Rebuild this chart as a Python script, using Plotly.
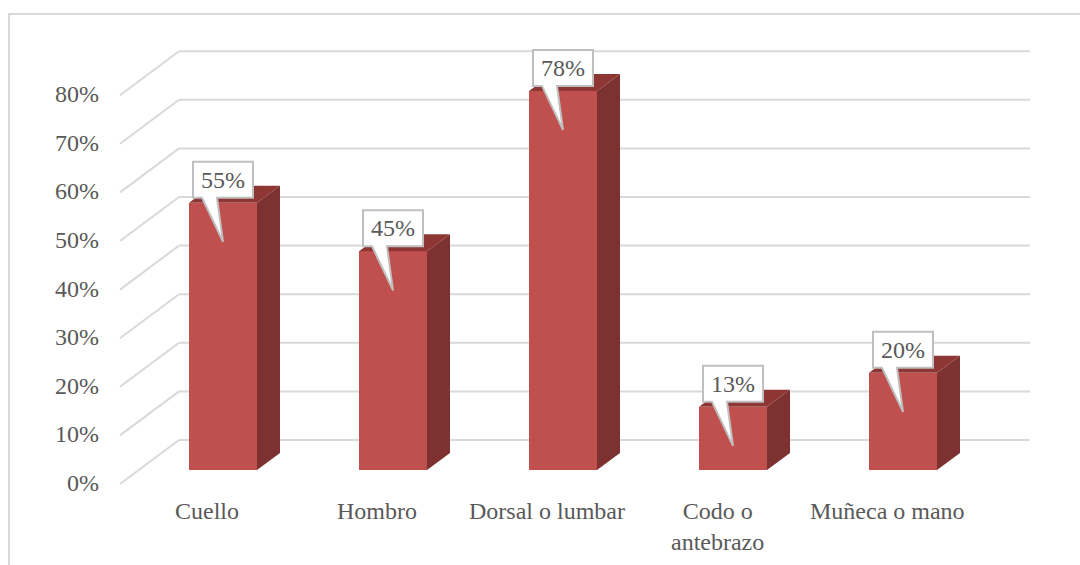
import plotly.graph_objects as go

# Chart data
categories = ["Cuello", "Hombro", "Dorsal o lumbar", "Codo o<br>antebrazo", "Muñeca o mano"]
values = [55, 45, 78, 13, 20]
tick_values = [0, 10, 20, 30, 40, 50, 60, 70, 80]
tick_labels = ["0%", "10%", "20%", "30%", "40%", "50%", "60%", "70%", "80%"]

W, H = 1080, 565
PX_CAT = 170.0      # pixels per category step
PX_PCT = 4.86       # pixels per percentage point
X0_PX, Y0_PX = 223, 470  # pixel position of category 0 / value 0 on the bar plane


def dx(px):
    return px / PX_CAT


def dy(px):
    return px / PX_PCT


FONT = "Liberation Serif"
FS = 24
TXT = "#595959"
GRID = "#d9d9d9"
FRONT = "#C0504D"
SIDE = "#7D3130"
TOP = "#8E3634"

xs = list(range(len(categories)))
half = 0.2                  # half bar width in category units
depth_x, depth_y = dx(23), dy(17)

fig = go.Figure()
fig.add_trace(go.Bar(
    x=xs, y=values, width=2 * half,
    marker=dict(color=FRONT, line=dict(width=0)),
    hoverinfo="skip", showlegend=False,
))

shapes = []
annotations = []

# back wall gridlines and floor diagonals
front_x, back_x, right_x = dx(120 - X0_PX), dx(179 - X0_PX), dx(1030 - X0_PX)
for v in tick_values:
    yf = v - dy(14)
    yb = v + dy(30)
    shapes.append(dict(type="line", xref="x", yref="y", x0=front_x, y0=yf, x1=back_x, y1=yb,
                       line=dict(color=GRID, width=2), layer="below"))
    shapes.append(dict(type="line", xref="x", yref="y", x0=back_x, y0=yb, x1=right_x, y1=yb,
                       line=dict(color=GRID, width=2), layer="below"))

# y tick labels on the front edge
for v, lab in zip(tick_values, tick_labels):
    annotations.append(dict(x=dx(101 - X0_PX), y=v - dy(13), xref="x", yref="y", text=lab,
                            showarrow=False, xanchor="right", yanchor="middle",
                            font=dict(family=FONT, size=FS, color=TXT)))

# side and top faces of each bar
for i, v in zip(xs, values):
    r = i + half
    l = i - half
    shapes.append(dict(type="path", xref="x", yref="y", layer="above",
                       path=f"M {r},0 L {r + depth_x},{depth_y} L {r + depth_x},{v + depth_y} L {r},{v} Z",
                       fillcolor=SIDE, line=dict(width=0)))
    shapes.append(dict(type="path", xref="x", yref="y", layer="above",
                       path=f"M {l},{v} L {r},{v} L {r + depth_x},{v + depth_y} L {l + depth_x},{v + depth_y} Z",
                       fillcolor=TOP, line=dict(width=0)))

# callout labels
for i, v in zip(xs, values):
    bl, br = i - dx(30), i + dx(30)
    bb = v + dy(5)
    bt = bb + dy(36)
    wl, wr = i - dx(21), i - dx(6)
    tip_y = v - dy(39)
    path = (f"M {bl},{bt} L {br},{bt} L {br},{bb} L {wr},{bb} L {i},{tip_y} "
            f"L {wl},{bb} L {bl},{bb} Z")
    shapes.append(dict(type="path", xref="x", yref="y", layer="above", path=path,
                       fillcolor="white", line=dict(color="#bfbfbf", width=2)))
    annotations.append(dict(x=i, y=(bb + bt) / 2, xref="x", yref="y", text=f"{v}%",
                            showarrow=False, xanchor="center", yanchor="middle",
                            font=dict(family=FONT, size=FS, color=TXT)))

# category labels
for i, c in zip(xs, categories):
    annotations.append(dict(x=i - dx(16), y=-dy(26), xref="x", yref="y", text=c,
                            showarrow=False, xanchor="center", yanchor="top",
                            font=dict(family=FONT, size=FS, color=TXT)))

# chart frame
shapes.append(dict(type="path", xref="paper", yref="paper",
                   path=f"M {9 / W},0 L {9 / W},{1 - 14 / H} L 1,{1 - 14 / H}",
                   line=dict(color=GRID, width=2)))

fig.update_layout(
    width=W, height=H,
    margin=dict(l=0, r=0, t=0, b=0),
    paper_bgcolor="white", plot_bgcolor="white",
    xaxis=dict(range=[dx(-X0_PX), dx(W - X0_PX)], visible=False, fixedrange=True),
    yaxis=dict(range=[dy(Y0_PX - H), dy(Y0_PX)], visible=False, fixedrange=True),
    shapes=shapes, annotations=annotations,
    bargap=0,
)

fig.write_html("out.html")
